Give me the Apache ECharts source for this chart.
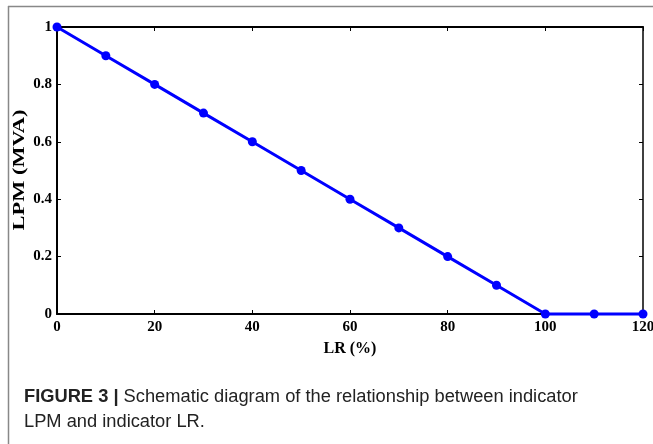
<!DOCTYPE html>
<html>
<head>
<meta charset="utf-8">
<script src="https://cdn.jsdelivr.net/npm/echarts@6/dist/echarts.min.js"></script>
<style>html,body{margin:0;padding:0;background:#fff;}#c{width:653px;height:444px;}</style>
</head>
<body>
<div id="c"></div>
<script>
var lrValues = [0, 10, 20, 30, 40, 50, 60, 70, 80, 90, 100, 110, 120];
var lpmValues = [1, 0.9, 0.8, 0.7, 0.6, 0.5, 0.4, 0.3, 0.2, 0.1, 0, 0, 0];
var xTicks = [0, 20, 40, 60, 80, 100, 120];
var yTicks = [0, 0.2, 0.4, 0.6, 0.8, 1];
var xTitle = 'LR (%)';
var yTitle = 'LPM (MVA)';

var chart = echarts.init(document.getElementById('c'), null, {renderer: 'canvas'});
var serif = '"Liberation Serif", "Times New Roman", serif';
var axisFont = {fontFamily: serif, fontWeight: 'bold', fontSize: 15, color: '#000'};
var pairs = lrValues.map(function (x, i) { return [x, lpmValues[i]]; });

chart.setOption({
  animation: false,
  backgroundColor: '#fff',
  grid: {left: 57, right: 10, top: 27, bottom: 130, containLabel: false, outerBoundsMode: 'none'},
  xAxis: [{
    type: 'value', min: 0, max: 120, interval: 20, position: 'bottom',
    axisLine: {onZero: false, lineStyle: {color: '#000', width: 2}},
    axisTick: {inside: true, length: 4, lineStyle: {color: '#000'}},
    axisLabel: Object.assign({margin: 6, formatter: function (v) { return xTicks.indexOf(v) >= 0 ? String(v) : ''; }}, axisFont),
    splitLine: {show: false},
    name: xTitle, nameLocation: 'middle', nameGap: 27,
    nameTextStyle: {fontFamily: serif, fontWeight: 'bold', fontSize: 16, color: '#000'}
  }, {
    type: 'value', min: 0, max: 120, interval: 20, position: 'top',
    axisLine: {onZero: false, lineStyle: {color: '#000', width: 2}},
    axisTick: {inside: true, length: 4, lineStyle: {color: '#000'}},
    axisLabel: {show: false}, splitLine: {show: false}
  }],
  yAxis: [{
    type: 'value', min: 0, max: 1, interval: 0.2, position: 'left',
    axisLine: {onZero: false, lineStyle: {color: '#000', width: 2}},
    axisTick: {inside: true, length: 4, lineStyle: {color: '#000'}},
    axisLabel: Object.assign({margin: 5, formatter: function (v) {
      var r = Math.round(v * 10) / 10; return yTicks.indexOf(r) >= 0 ? String(r) : ''; }}, axisFont),
    splitLine: {show: false}
  }, {
    type: 'value', min: 0, max: 1, interval: 0.2, position: 'right',
    axisLine: {onZero: false, lineStyle: {color: '#000', width: 1.5}},
    axisTick: {inside: true, length: 4, lineStyle: {color: '#000'}},
    axisLabel: {show: false}, splitLine: {show: false}
  }],
  series: [{
    type: 'line', data: pairs, xAxisIndex: 0, yAxisIndex: 0,
    lineStyle: {color: '#0000ff', width: 3},
    itemStyle: {color: '#0000ff'},
    symbol: 'circle', symbolSize: 9, showSymbol: true, clip: false, z: 5
  }],
  graphic: [
    {type: 'line', shape: {x1: 8, y1: 6.5, x2: 653, y2: 6.5}, style: {stroke: '#888', lineWidth: 1.5}},
    {type: 'line', shape: {x1: 8.5, y1: 6, x2: 8.5, y2: 444}, style: {stroke: '#888', lineWidth: 1.5}},
    {type: 'text', x: 20, y: 170, rotation: Math.PI / 2, scaleX: 1.4, scaleY: 1, style: {
      text: yTitle, font: 'bold 16px ' + serif, fill: '#000', align: 'center', verticalAlign: 'middle'
    }},
    {type: 'text', left: 24, top: 384, style: {
      text: '{b|FIGURE 3 |} Schematic diagram of the relationship between indicator\nLPM and indicator LR.',
      font: '18.3px "Liberation Sans", Arial, sans-serif',
      fill: '#222', lineHeight: 25,
      rich: {b: {font: 'bold 18.3px "Liberation Sans", Arial, sans-serif', fill: '#222'}}
    }}
  ]
});
</script>
</body>
</html>
